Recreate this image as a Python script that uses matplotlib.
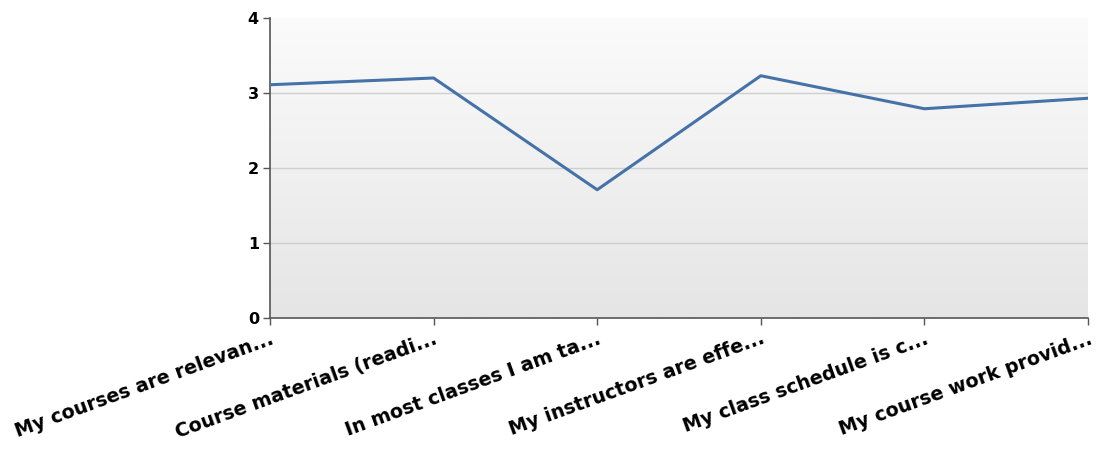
import matplotlib
matplotlib.use("Agg")
import matplotlib.pyplot as plt
import numpy as np
from matplotlib.colors import LinearSegmentedColormap

categories = ["My courses are relevan...", "Course materials (readi...", "In most classes I am ta...",
              "My instructors are effe...", "My class schedule is c...", "My course work provid..."]
values = [3.11, 3.2, 1.71, 3.23, 2.79, 2.93]
yticks = [0, 1, 2, 3, 4]

plt.rcParams['font.family'] = ['DejaVu Sans']

fig = plt.figure(figsize=(10.97, 4.55), dpi=100)
ax = fig.add_axes([270/1097, 1-318/455, (1088-270)/1097, 300/455])

x = np.arange(len(categories))
# gradient background
grad = np.linspace(0, 1, 256).reshape(-1, 1)
cmap = LinearSegmentedColormap.from_list("bg", ["#fbfbfb", "#e5e5e5"])
ax.imshow(grad, extent=[0, 1, 0, 1], transform=ax.transAxes, aspect='auto', cmap=cmap, zorder=0)

ax.set_xlim(0, len(categories)-1)
ax.set_ylim(0, 4)
ax.set_yticks(yticks)
ax.set_yticklabels([str(v) for v in yticks], fontsize=11.5, fontweight='bold')
for v in yticks[1:-1]:
    ax.axhline(v, color="#cfcfcf", lw=1, zorder=1)

ax.plot(x, values, color="#4572A7", lw=2.2, zorder=3)

ax.set_xticks(x)
ax.set_xticklabels(categories, rotation=20, ha='right', va='top', rotation_mode='anchor',
                   fontsize=13.8, fontweight='bold')
ax.tick_params(axis='x', length=5, color="#555555", width=1, pad=3)
ax.tick_params(axis='y', length=5, color="#555555", width=1, pad=3)

for s in ['top', 'right']:
    ax.spines[s].set_visible(False)
for s in ['left', 'bottom']:
    ax.spines[s].set_color("#555555")
    ax.spines[s].set_linewidth(1.2)

fig.savefig("out.png", dpi=100)
